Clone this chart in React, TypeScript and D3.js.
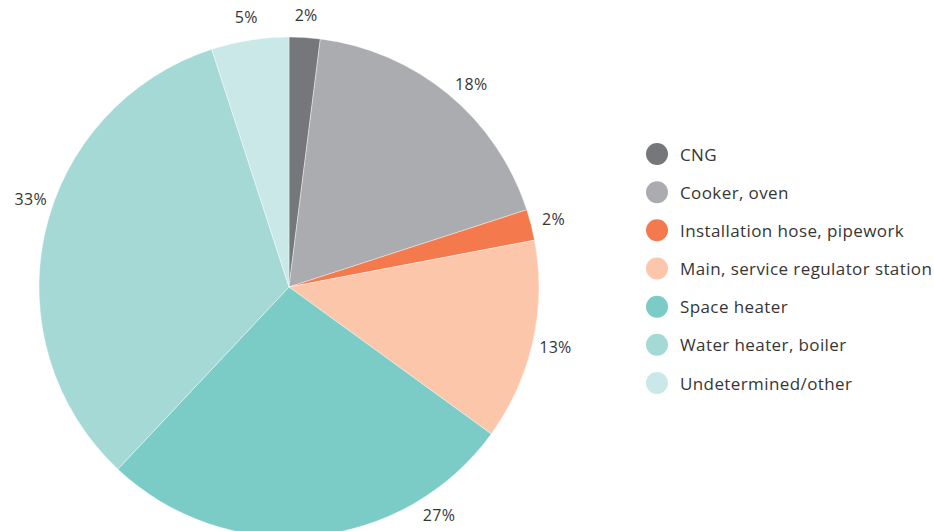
import React from "react";
import * as d3 from "d3";

const categories = [
  "CNG",
  "Cooker, oven",
  "Installation hose, pipework",
  "Main, service regulator station",
  "Space heater",
  "Water heater, boiler",
  "Undetermined/other",
];
const values = [2, 18, 2, 13, 27, 33, 5];
const colors = ["#76777b", "#abacb0", "#f47a4d", "#fcc6ab", "#7bcbc6", "#a5d9d5", "#cae8e8"];

const W = 934;
const H = 531;
const cx = 289;
const cy = 287;
const R = 250;
const labelR = 273;

export default function App() {
  const pie = d3.pie<number>().sort(null).value((d) => d);
  const arcs = pie(values);
  const arcGen = d3.arc<d3.PieArcDatum<number>>().innerRadius(0).outerRadius(R);

  // label angle: midpoint of the largest visible portion of the arc (clipped by svg bottom)
  const labelAngle = (a: d3.PieArcDatum<number>, i: number) => {
    const n = 200;
    let best: [number, number] | null = null;
    let cur: [number, number] | null = null;
    for (let k = 0; k <= n; k++) {
      const t = a.startAngle + ((a.endAngle - a.startAngle) * k) / n;
      const y = cy - R * Math.cos(t);
      const vis = y <= H;
      if (vis) {
        if (!cur) cur = [t, t];
        else cur[1] = t;
      } else if (cur) {
        if (!best || cur[1] - cur[0] > best[1] - best[0]) best = cur;
        cur = null;
      }
    }
    if (cur && (!best || cur[1] - cur[0] > best[1] - best[0])) best = cur;
    const m = best ? (best[0] + best[1]) / 2 : (a.startAngle + a.endAngle) / 2;
    const nudge = i === 5 ? 0.11 : i === 1 ? 0.04 : 0;
    return m + nudge;
  };

  const legendY = d3.scalePoint<string>().domain(categories).range([154, 383]);

  return (
    <svg width={W} height={H} style={{ position: "absolute", left: 0, top: 0, background: "#fff" }}>
      <g transform={`translate(${cx},${cy})`}>
        {arcs.map((a, i) => (
          <path key={i} d={arcGen(a) || ""} fill={colors[i]} stroke="#fff" strokeWidth={0.4} />
        ))}
        {arcs.map((a, i) => {
          const t = labelAngle(a, i);
          return (
            <text
              key={"l" + i}
              x={labelR * Math.sin(t)}
              y={-labelR * Math.cos(t)}
              textAnchor="middle"
              dominantBaseline="central"
              fontFamily="'Open Sans', sans-serif"
              fontSize={16}
              letterSpacing={0.3}
              fill="#363636"
            >
              {values[i]}%
            </text>
          );
        })}
      </g>
      {categories.map((c, i) => (
        <g key={c} transform={`translate(657,${legendY(c)})`}>
          <circle r={11} fill={colors[i]} />
          <text
            x={23}
            dominantBaseline="central"
            fontFamily="'Open Sans', sans-serif"
            fontSize={17}
            letterSpacing={0.4}
            fill="#363636"
          >
            {c}
          </text>
        </g>
      ))}
    </svg>
  );
}
